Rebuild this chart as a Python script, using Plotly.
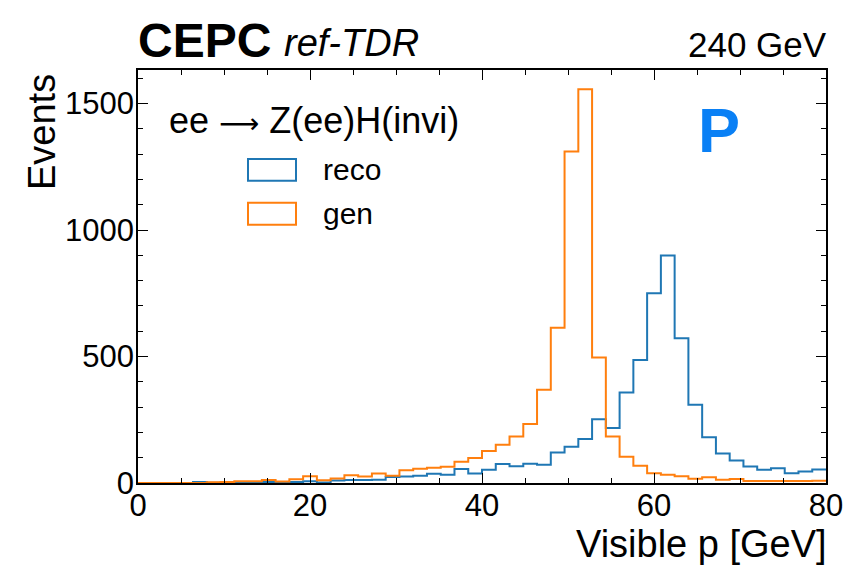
import plotly.graph_objects as go

# ---- data (1.6 GeV bins from 0 to 80 GeV) ----
bin_edges = [round(i * 1.6, 1) for i in range(51)]
reco = [0, 0, 0, 0, 4, 1, 1, 2, 2, 4,
        1, 4, 7, 2, 10, 12, 12, 13, 24, 26,
        29, 37, 33, 55, 38, 52, 75, 66, 76, 72,
        121, 143, 174, 252, 217, 358, 486, 750, 900, 572,
        309, 181, 117, 89, 65, 52, 58, 39, 45, 53]
gen = [0, 0, 0, 0, 0, 3, 4, 7, 7, 12,
       6, 15, 27, 11, 18, 31, 26, 38, 29, 50,
       56, 60, 64, 84, 99, 127, 151, 184, 233, 369,
       614, 1311, 1557, 496, 184, 104, 68, 39, 33, 27,
       17, 23, 13, 16, 8, 8, 8, 8, 8, 9]
series_names = ["reco", "gen"]
series_colors = ["#1f77b4", "#ff7f0e"]
x_ticks = [0, 20, 40, 60, 80]
y_ticks = [0, 500, 1000, 1500]

FONT = "Liberation Sans"
W, H = 856, 569
L, R, T, B = 138, 30, 70, 85.5
PW, PH = W - L - R, H - T - B

def px(x):
    return (x - L) / PW

def py(y):
    return (H - B - y) / PH

fig = go.Figure()
for name, vals, col in zip(series_names, [reco, gen], series_colors):
    fig.add_trace(go.Scatter(
        x=bin_edges, y=vals + [vals[-1]], mode="lines",
        line=dict(shape="hv", color=col, width=2),
        name=name, showlegend=False, cliponaxis=True))

axis_common = dict(
    showline=True, linecolor="black", linewidth=1.6, mirror="allticks",
    ticks="inside", ticklen=10, tickwidth=1.2, tickcolor="black",
    showgrid=False, zeroline=False,
    tickfont=dict(family=FONT, size=31, color="black"),
)
fig.update_xaxes(range=[0, 80], tickvals=x_ticks, ticklabelstandoff=-6,
                 minor=dict(dtick=5, ticks="inside", ticklen=5, tickwidth=1, tickcolor="black"),
                 **axis_common)
fig.update_yaxes(range=[0, 1633], tickvals=y_ticks, ticklabelstandoff=-4,
                 minor=dict(dtick=100, ticks="inside", ticklen=5, tickwidth=1, tickcolor="black"),
                 **axis_common)

ann = []
ann.append(dict(text="Events", textangle=-90, x=px(42), y=py(72), xref="paper", yref="paper",
                xanchor="center", yanchor="top", showarrow=False,
                font=dict(family=FONT, size=38, color="black")))
ann.append(dict(text="Visible p [GeV]", x=1, y=py(545), xref="paper", yref="paper",
                xanchor="right", yanchor="middle", showarrow=False, xshift=3,
                font=dict(family=FONT, size=38, color="black")))
ann.append(dict(text="<b>CEPC</b>", x=0, y=py(40), xref="paper", yref="paper",
                xanchor="left", yanchor="middle", showarrow=False, xshift=-2,
                font=dict(family=FONT, size=48, color="black")))
ann.append(dict(text="<i>ref-TDR</i>", x=px(282), y=py(43), xref="paper", yref="paper",
                xanchor="left", yanchor="middle", showarrow=False,
                font=dict(family=FONT, size=38, color="black")))
ann.append(dict(text="240 GeV", x=1, y=py(44), xref="paper", yref="paper",
                xanchor="right", yanchor="middle", showarrow=False, xshift=3,
                font=dict(family=FONT, size=35, color="black")))
ann.append(dict(text="ee <span style='font-family:DejaVu Sans;font-size:28px'>\u27f6</span> Z(ee)H(invi)",
                x=px(167), y=py(121), xref="paper", yref="paper",
                xanchor="left", yanchor="middle", showarrow=False,
                font=dict(family=FONT, size=36, color="black")))
ann.append(dict(text="<b>P</b>", x=px(719), y=py(130), xref="paper", yref="paper",
                xanchor="center", yanchor="middle", showarrow=False,
                font=dict(family="Liberation Sans Narrow, Liberation Sans", size=63, color="#0a80f5")))

shapes = []
legend_rows = [(159, 181, 170), (203, 225, 214)]
for (y0, y1, yc), name, col in zip(legend_rows, series_names, series_colors):
    shapes.append(dict(type="rect", xref="paper", yref="paper",
                       x0=px(248), x1=px(296), y0=py(y1), y1=py(y0),
                       line=dict(color=col, width=2), fillcolor="rgba(0,0,0,0)"))
    ann.append(dict(text=name, x=px(321), y=py(yc), xref="paper", yref="paper",
                    xanchor="left", yanchor="middle", showarrow=False,
                    font=dict(family=FONT, size=30, color="black")))

fig.update_layout(
    width=W, height=H,
    margin=dict(l=L, r=R, t=T, b=B, pad=0),
    paper_bgcolor="white", plot_bgcolor="white",
    font=dict(family=FONT, color="black"),
    annotations=ann, shapes=shapes, showlegend=False,
)
fig.write_html("out.html")
